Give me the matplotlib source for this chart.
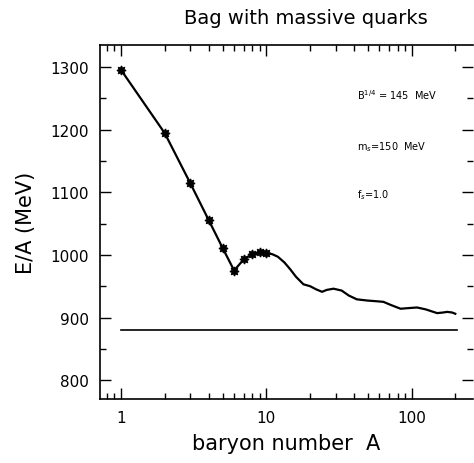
import matplotlib
matplotlib.use("Agg")
import matplotlib.pyplot as plt
from matplotlib.ticker import LogLocator, FixedLocator, FixedFormatter, NullFormatter, MultipleLocator

# small bags, computed for each A
a_pts = [1, 2, 3, 4, 5, 6, 7, 8, 9, 10]
e_pts = [1295, 1194, 1114, 1056, 1011, 975, 993, 1001, 1004, 1003]

# larger A, continuous curve
a_curve = [10, 11, 12, 13.3, 14.6, 16, 18, 20, 22, 24.2, 26, 29, 33, 37, 42, 50, 57, 64, 72, 84, 95, 109, 125, 150, 165, 176, 190, 200]
e_curve = [1003, 1001, 997, 988, 977, 965, 953, 950, 945, 941, 944, 946, 943, 935, 929, 927, 926, 925, 920, 914, 915, 916, 913, 907, 908, 909, 908, 906]

# reference line
a_ref = [1, 204]
e_ref = [880, 880]

fig = plt.figure(figsize=(4.74, 4.64), dpi=100)
ax = fig.add_axes([0.211, 0.138, 0.787, 0.763])

ax.plot(a_pts + a_curve[1:], e_pts + e_curve[1:], color="black", lw=1.6)
ax.plot(a_pts, e_pts, ls="none", marker=(8, 1, 0), ms=6.5, color="black")
ax.plot(a_ref, e_ref, color="black", lw=1.2)

ax.set_xscale("log")
ax.set_xlim(0.716, 265)
ax.set_ylim(770, 1335)

ax.xaxis.set_major_locator(FixedLocator([1, 10, 100]))
ax.xaxis.set_major_formatter(FixedFormatter(["1", "10", "100"]))
ax.xaxis.set_minor_locator(LogLocator(base=10, subs=range(2, 10)))
ax.xaxis.set_minor_formatter(NullFormatter())
ax.yaxis.set_major_locator(MultipleLocator(100))
ax.yaxis.set_minor_locator(MultipleLocator(50))

ax.tick_params(which="both", direction="in", top=True, right=True, labelsize=11, width=1)
ax.tick_params(which="major", length=8, pad=8)
ax.tick_params(which="minor", length=4)
ax.spines["right"].set_visible(False)
for s in ["left", "bottom", "top"]:
    ax.spines[s].set_linewidth(1.2)

ax.set_xlabel("baryon number  A", fontsize=15, labelpad=6)
ax.set_ylabel("E/A (MeV)", fontsize=15, labelpad=10)
fig.text(0.645, 0.96, "Bag with massive quarks", fontsize=14, ha="center", va="center")

ax.text(0.69, 0.862, r"B$^{1/4}$ = 145  MeV", transform=ax.transAxes, fontsize=7, va="center")
ax.text(0.69, 0.715, r"m$_s$=150  MeV", transform=ax.transAxes, fontsize=7, va="center")
ax.text(0.69, 0.579, r"f$_s$=1.0", transform=ax.transAxes, fontsize=7, va="center")

fig.savefig("out.png", dpi=100)
